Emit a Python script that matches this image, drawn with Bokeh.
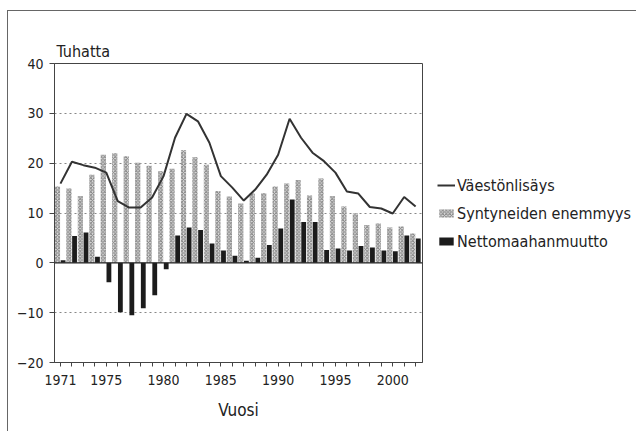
from bokeh.plotting import figure
from bokeh.models import (ColumnDataSource, Range1d, FixedTicker, Span,
                          Legend, LegendItem)
from bokeh.transform import dodge
from bokeh.embed import file_html
from bokeh.resources import INLINE

years = list(range(1971, 2003))
syntyneiden_enemmyys = [15.3, 14.9, 13.4, 17.7, 21.7, 22.0, 21.4, 20.1, 19.5, 18.4,
                        18.9, 22.6, 21.2, 19.7, 14.4, 13.3, 11.9, 13.9, 14.0, 15.3,
                        15.9, 16.6, 13.5, 16.9, 13.4, 11.3, 9.9, 7.6, 7.9, 7.1,
                        7.3, 5.9]
nettomaahanmuutto = [0.5, 5.4, 6.1, 1.2, -3.9, -9.9, -10.5, -9.1, -6.5, -1.3,
                     5.5, 7.1, 6.6, 3.9, 2.5, 1.4, 0.4, 1.0, 3.6, 6.9,
                     12.7, 8.2, 8.2, 2.6, 2.9, 2.5, 3.4, 3.1, 2.5, 2.3,
                     5.5, 4.9]
vaestonlisays = [15.9, 20.3, 19.6, 19.1, 18.1, 12.4, 11.1, 11.1, 13.1, 17.4,
                 25.1, 29.9, 28.4, 24.1, 17.4, 15.1, 12.5, 14.7, 17.7, 21.7,
                 28.9, 25.1, 22.1, 20.4, 18.1, 14.3, 13.9, 11.2, 10.9, 9.9,
                 13.2, 11.3]
x_tick_labels = [1971, 1975, 1980, 1985, 1990, 1995, 2000]
y_ticks = [-20, -10, 0, 10, 20, 30, 40]
grid_values = [-10, 10, 20, 30]

src = ColumnDataSource(dict(year=years, surplus=syntyneiden_enemmyys,
                            migr=nettomaahanmuutto, total=vaestonlisays))

FONT = "DejaVu Sans Condensed"

p = figure(output_backend="svg", toolbar_location=None,
           frame_width=368, frame_height=299,
           min_border_left=46, min_border_right=214,
           min_border_top=52, min_border_bottom=69,
           x_range=Range1d(1970.48, 2002.6), y_range=Range1d(-20, 40),
           background_fill_color="white", border_fill_color="white")
p.styles = {"margin-left": "7px", "margin-top": "10px",
            "border-left": "1px solid #666", "border-top": "1px solid #666"}
p.outline_line_color = "#444"
p.outline_line_width = 1

p.title.text = "Tuhatta"
p.title.align = "left"
p.title.offset = 2
p.title.standoff = 5
p.title.text_font = FONT
p.title.text_font_size = "16px"
p.title.text_font_style = "normal"
p.title.text_color = "#222"

p.xgrid.visible = False
p.ygrid.ticker = FixedTicker(ticks=grid_values)
p.ygrid.grid_line_color = "#888"
p.ygrid.grid_line_dash = "2 3"
p.ygrid.grid_line_width = 1

# axes
p.xaxis.ticker = FixedTicker(ticks=years)
p.xaxis.major_label_overrides = {y: (str(y) if y in x_tick_labels else "") for y in years}
p.xaxis.minor_tick_line_color = None
p.xaxis.major_tick_in = 0
p.xaxis.major_tick_out = 4
p.xaxis.major_label_standoff = 8
p.xaxis.axis_label = "Vuosi"
p.xaxis.axis_label_standoff = 12
p.xaxis.axis_label_text_font = FONT
p.xaxis.axis_label_text_font_size = "17px"
p.xaxis.axis_label_text_font_style = "normal"
p.xaxis.axis_label_text_color = "#222"

p.yaxis.ticker = FixedTicker(ticks=y_ticks)
p.yaxis.minor_tick_line_color = None
p.yaxis.major_tick_in = 0
p.yaxis.major_tick_out = 5
p.yaxis.major_label_standoff = 6

for ax in (p.xaxis[0], p.yaxis[0]):
    ax.axis_line_color = "#444"
    ax.major_tick_line_color = "#444"
    ax.major_label_text_font = FONT
    ax.major_label_text_font_size = "14px"
    ax.major_label_text_color = "#222"

r_grey = p.vbar(x=dodge("year", -0.26, range=p.x_range), top="surplus", width=0.45,
                source=src, fill_color="#dedede", line_color=None,
                hatch_pattern="x", hatch_color="#808080", hatch_scale=3.5,
                hatch_weight=1)
r_black = p.vbar(x=dodge("year", 0.23, range=p.x_range), top="migr", width=0.42,
                 source=src, fill_color="#1c1c1c", line_color=None)

p.add_layout(Span(location=0, dimension="width", line_color="#222", line_width=1.3))

r_line = p.line(x="year", y="total", source=src, line_color="#333", line_width=2)

legend = Legend(items=[
    LegendItem(label="Väestönlisäys", renderers=[r_line]),
    LegendItem(label="Syntyneiden enemmyys", renderers=[r_grey]),
    LegendItem(label="Nettomaahanmuutto", renderers=[r_black]),
], location=(15, 111), orientation="vertical",
    glyph_width=18, glyph_height=10, label_height=20, label_standoff=2,
    spacing=8, padding=0, margin=0,
    border_line_color=None, background_fill_alpha=0,
    label_text_font=FONT, label_text_font_size="16px", label_text_color="#222")
p.add_layout(legend, "right")

open("out.html", "w").write(file_html(p, INLINE))
